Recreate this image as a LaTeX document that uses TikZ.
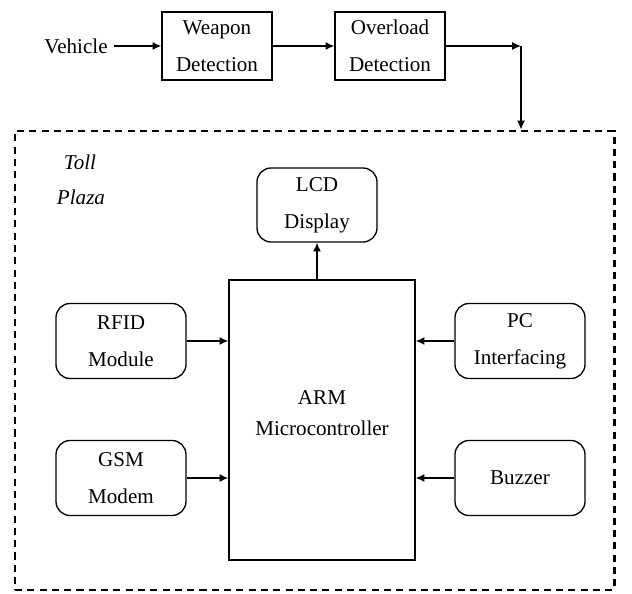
\documentclass[tikz,border=0pt]{standalone}
\usepackage{fontspec}
\setmainfont{Liberation Serif}
\usetikzlibrary{arrows.meta,calc}
\tikzset{
  block/.style={
    draw=black,line width=0.75pt,align=center,inner sep=0pt,font=\large,
  },
  roundblock/.style={
    block,rounded corners=8pt,
  },
  link/.style={
    line width=0.75pt,-{Latex[length=5pt,width=4.5pt]},
  },
}
\begin{document}
\begin{tikzpicture}[x=0.02cm,y=-0.02cm]
    \useasboundingbox (0,0) rectangle (632,594);
    % input chain
    \node[font=\large] (vehicle) at (76,46) {Vehicle};
    \node[block,minimum width=110*0.02cm,minimum height=68*0.02cm] (weapon) at (217,46)
        {Weapon\\[7pt]Detection};
    \node[block,minimum width=110*0.02cm,minimum height=68*0.02cm] (overload) at (390,46)
        {Overload\\[7pt]Detection};
    \coordinate (turn) at (521,46);
    % toll plaza frame
    \node[draw=black,line width=1.7pt,dash pattern=on 4pt off 3pt,
          minimum width=599*0.02cm,minimum height=459*0.02cm] (plaza) at (314.5,360.5) {};
    \node[font=\large\itshape] (toll) at (80,162) {Toll};
    \node[font=\large\itshape] (tollb) at (81,197) {Plaza};
    % controller and peripherals
    \node[block,minimum width=186*0.02cm,minimum height=280*0.02cm] (arm) at (322,420) {};
    \node[font=\large,align=center] (armtext) at (322,413) {ARM\\[4pt]Microcontroller};
    \node[roundblock,minimum width=120*0.02cm,minimum height=74*0.02cm] (lcd) at (317,205)
        {LCD\\[7pt]Display};
    \node[roundblock,minimum width=130*0.02cm,minimum height=75*0.02cm] (rfid) at (121,341)
        {RFID\\[7pt]Module};
    \node[roundblock,minimum width=130*0.02cm,minimum height=75*0.02cm] (gsm) at (121,478)
        {GSM\\[7pt]Modem};
    \node[roundblock,minimum width=130*0.02cm,minimum height=75*0.02cm] (pc) at (520,341)
        {PC\\[7pt]Interfacing};
    \node[roundblock,minimum width=130*0.02cm,minimum height=75*0.02cm] (buzzer) at (520,478)
        {Buzzer};
    % connections
    \draw[link] (vehicle) -- (weapon);
    \draw[link] (weapon) -- (overload);
    \draw[link] (overload) -- (turn);
    \draw[link] (turn) -- (turn |- plaza.north);
    \draw[link] (arm.north -| lcd.south) -- (lcd.south);
    \draw[link] (rfid) -- (rfid -| arm.west);
    \draw[link] (gsm) -- (gsm -| arm.west);
    \draw[link] (pc) -- (pc -| arm.east);
    \draw[link] (buzzer) -- (buzzer -| arm.east);
\end{tikzpicture}
\end{document}
